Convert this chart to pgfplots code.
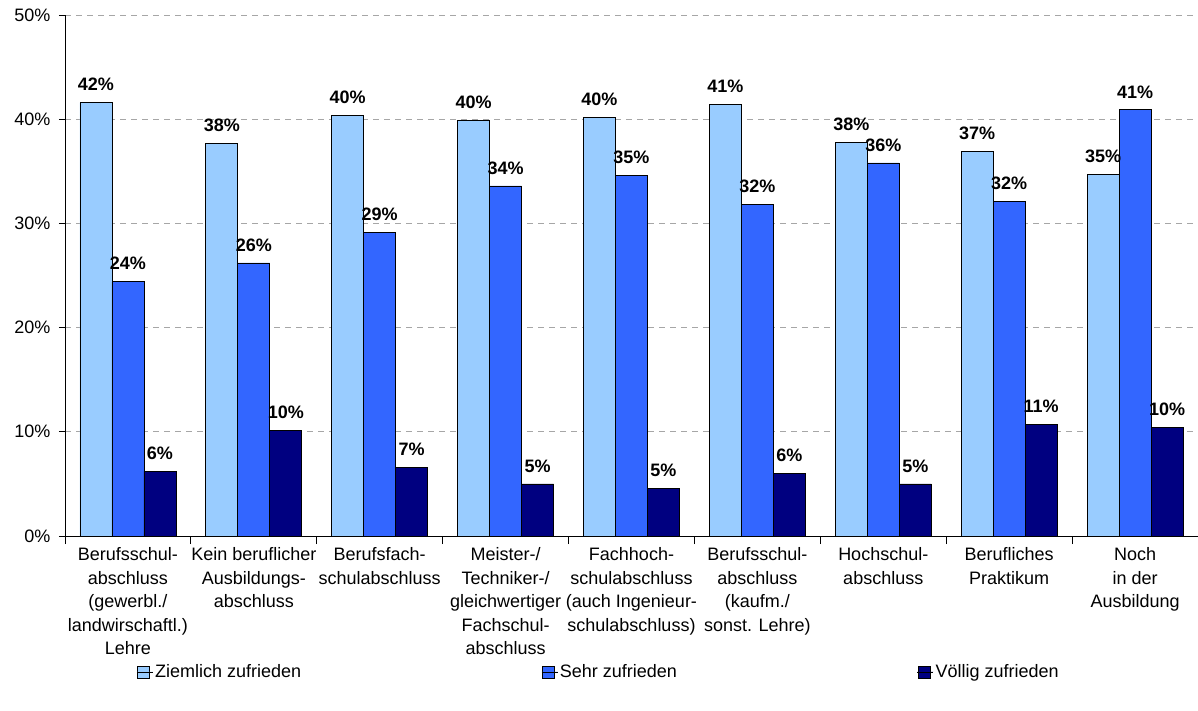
\documentclass[border=0pt]{standalone}
\usepackage{fontspec}
\setmainfont{Liberation Sans}
\usepackage{pgfplots}
\pgfplotsset{compat=1.18}
\definecolor{c1}{HTML}{99CCFF}
\definecolor{c2}{HTML}{3366FF}
\definecolor{c3}{HTML}{000080}
\newcommand{\f}{\fontsize{18bp}{23.5bp}\selectfont}
\begin{document}
\begin{tikzpicture}
\path[use as bounding box] (-65bp,-175bp) rectangle (1133bp,536bp);
\begin{axis}[
  scale only axis, width=1133bp, height=521bp,
  at={(0,0)}, anchor=south west,
  ymin=0, ymax=50, xmin=-0.5, xmax=8.5,
  ybar=0pt, bar width=32bp,
  axis x line*=bottom, axis y line*=left,
  axis line style={-, black, line width=0.8bp},
  ytick={0,10,...,50},
  yticklabel={\pgfmathprintnumber{\tick}\%},
  /pgf/number format/assume math mode=true,
  ymajorgrids,
  grid style={gray!70, dash pattern=on 6bp off 5bp, line width=0.8bp},
  tick align=outside,
  major tick length=6bp, minor tick length=8bp,
  major x tick style={draw=none},
  minor x tick style={black, line width=0.8bp},
  ytick style={black, line width=0.8bp},
  xtick={0,...,8},
  minor xtick={-0.5,0.5,...,8.5},
  xticklabels={
    {Berufsschul-\\abschluss\\(gewerbl./\\landwirschaftl.)\\Lehre},
    {Kein beruflicher\\Ausbildungs-\\abschluss},
    {Berufsfach-\\schulabschluss},
    {Meister-/\\Techniker-/\\gleichwertiger\\Fachschul-\\abschluss},
    {Fachhoch-\\schulabschluss\\(auch Ingenieur-\\schulabschluss)},
    {Berufsschul-\\abschluss\\(kaufm./\\sonst. Lehre)},
    {Hochschul-\\abschluss},
    {Berufliches\\Praktikum},
    {Noch\\in der\\Ausbildung}},
  xticklabel style={align=center, font=\f, anchor=north, yshift=-2bp},
  yticklabel style={font=\f, xshift=-5bp},
  nodes near coords={\pgfmathprintnumber[fixed,precision=0]{\pgfplotspointmeta}\%},
  nodes near coords style={font=\f\bfseries, black, yshift=8bp},
  every axis plot/.append style={draw=black, line width=0.7bp},
  legend columns=3,
  legend image code/.code={\draw[#1] (0bp,-6bp) rectangle (12bp,6bp); \path (-1bp,0bp) -- (15bp,0bp);},
  legend style={draw=none, fill=none, font=\f, at={(0.471,-0.261)}, anchor=center,
    /tikz/every even column/.append style={column sep=238bp}},
]
\addplot[fill=c1] coordinates {(0,41.6) (1,37.7) (2,40.4) (3,39.9) (4,40.2) (5,41.4) (6,37.8) (7,36.9) (8,34.7)};
\addplot[fill=c2] coordinates {(0,24.4) (1,26.2) (2,29.1) (3,33.6) (4,34.6) (5,31.8) (6,35.8) (7,32.1) (8,40.9)};
\addplot[fill=c3] coordinates {(0,6.2) (1,10.1) (2,6.6) (3,5.0) (4,4.6) (5,6.0) (6,5.0) (7,10.7) (8,10.4)};
\legend{Ziemlich zufrieden, Sehr zufrieden, Völlig zufrieden}
\end{axis}
\end{tikzpicture}
\end{document}
